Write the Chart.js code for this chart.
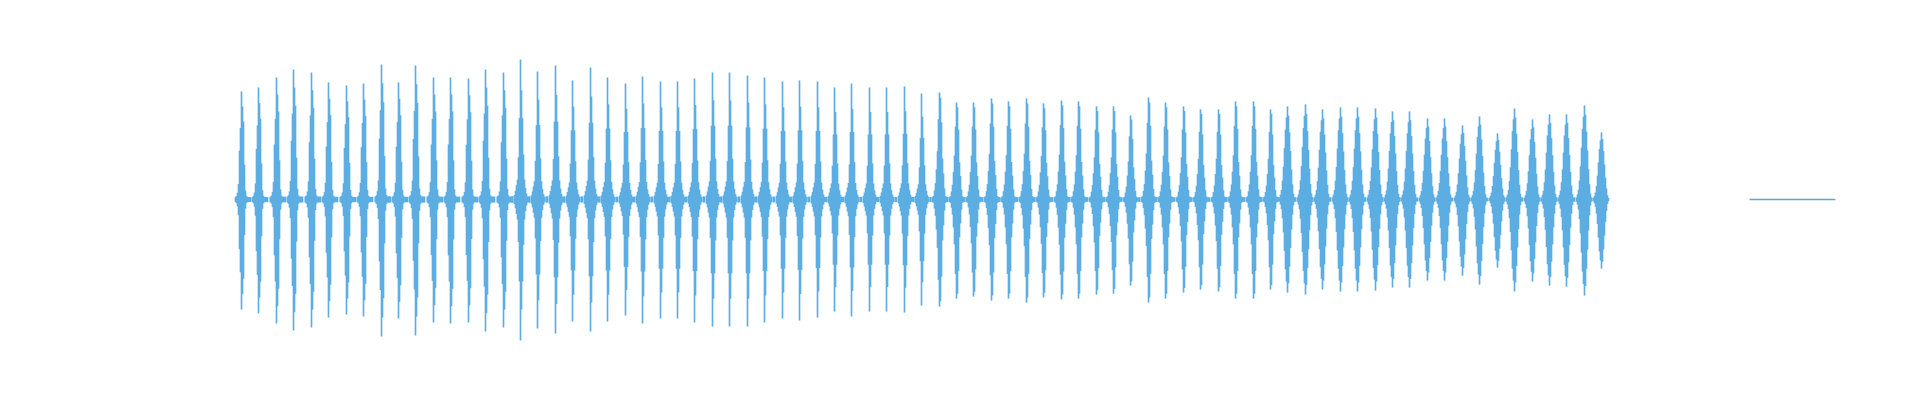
<!DOCTYPE html>
<html>
<head>
<meta charset="utf-8">
<title>Waveform</title>
<script src="https://cdn.jsdelivr.net/npm/chart.js@4.4.1/dist/chart.umd.min.js"></script>
<style>
  html, body { margin: 0; padding: 0; background: #fff; }
  #wrap { width: 1920px; height: 400px; }
</style>
</head>
<body>
<div id="wrap"><canvas id="wave"></canvas></div>
<script>
// Pulse peak columns (pixel frame index)
const pulseCols = [
  241, 258, 276, 293, 311, 328, 346, 363, 381, 398,
  415, 433, 450, 468, 485, 503, 520, 537, 555, 572,
  590, 607, 625, 642, 660, 677, 694, 712, 729, 747,
  764, 782, 799, 817, 834, 851, 869, 886, 904, 921,
  939, 956, 973, 991, 1008, 1026, 1043, 1061, 1078, 1096,
  1113, 1130, 1148, 1165, 1183, 1200, 1218, 1235, 1253, 1270,
  1287, 1305, 1322, 1340, 1357, 1375, 1392, 1409, 1427, 1444,
  1462, 1479, 1497, 1514, 1532, 1549, 1566, 1584, 1601
];

// Positive peak amplitude of each pulse
const pulseUp = [
  0.54, 0.56, 0.61, 0.65, 0.635, 0.585, 0.57, 0.58, 0.675, 0.585,
  0.67, 0.61, 0.61, 0.605, 0.65, 0.635, 0.70, 0.64, 0.67, 0.595,
  0.66, 0.61, 0.58, 0.615, 0.59, 0.59, 0.605, 0.635, 0.635, 0.62,
  0.61, 0.59, 0.595, 0.59, 0.56, 0.58, 0.56, 0.56, 0.565, 0.53,
  0.535, 0.485, 0.485, 0.505, 0.49, 0.505, 0.48, 0.495, 0.49, 0.465,
  0.465, 0.42, 0.51, 0.485, 0.465, 0.45, 0.45, 0.49, 0.49, 0.45,
  0.465, 0.475, 0.45, 0.46, 0.46, 0.455, 0.44, 0.44, 0.405, 0.405,
  0.37, 0.415, 0.33, 0.455, 0.40, 0.425, 0.425, 0.47, 0.335
];

// Negative peak amplitude of each pulse
const pulseDown = [
  0.55, 0.57, 0.62, 0.655, 0.64, 0.59, 0.575, 0.585, 0.685, 0.595,
  0.68, 0.615, 0.62, 0.615, 0.66, 0.64, 0.705, 0.645, 0.67, 0.61,
  0.66, 0.61, 0.58, 0.62, 0.595, 0.595, 0.615, 0.635, 0.635, 0.635,
  0.615, 0.595, 0.605, 0.59, 0.56, 0.585, 0.56, 0.56, 0.565, 0.53,
  0.535, 0.495, 0.485, 0.505, 0.495, 0.515, 0.49, 0.50, 0.495, 0.475,
  0.47, 0.43, 0.515, 0.495, 0.465, 0.45, 0.46, 0.495, 0.495, 0.45,
  0.465, 0.475, 0.45, 0.46, 0.46, 0.455, 0.44, 0.44, 0.405, 0.405,
  0.38, 0.425, 0.34, 0.46, 0.41, 0.43, 0.435, 0.48, 0.345
];

// Envelope shape used by each pulse (index into shapes)
const pulseShape = [
  0, 0, 0, 0, 0, 0, 0, 0, 0, 0,
  0, 0, 0, 0, 0, 0, 1, 1, 1, 1,
  1, 1, 1, 1, 1, 1, 1, 1, 1, 1,
  1, 1, 1, 1, 1, 1, 1, 1, 1, 1,
  2, 2, 2, 2, 2, 2, 2, 2, 2, 2,
  2, 2, 2, 2, 2, 2, 2, 2, 2, 2,
  3, 3, 3, 3, 3, 3, 3, 3, 3, 3,
  3, 3, 3, 3, 3, 3, 3, 3, 3
];

// Column envelopes around the peak
// (small trailing values are the faint noise between pulses)
const narrowShape = [0.02, 0.03, 0.06, 0.14, 0.45, 0.66, 1.0, 0.86, 0.72, 0.32, 0.08, 0.03, 0.02, 0.02, 0.02, 0.02, 0, 0, 0.02, 0.02];
const spikeShape = [0.02, 0.02, 0, 0.03, 0.06, 0.1, 0.14, 0.3, 0.58, 1.0, 0.78, 0.58, 0.32, 0.14, 0.08, 0.04, 0.02, 0, 0.02];
const bodyShape = [0.02, 0, 0.02, 0.03, 0.08, 0.15, 0.28, 0.45, 0.75, 1.0, 0.95, 0.72, 0.38, 0.24, 0.1, 0.03, 0.02, 0.02];
const wideShape = [0.02, 0, 0.02, 0.05, 0.1, 0.2, 0.35, 0.55, 0.75, 0.88, 1.0, 0.9, 0.72, 0.52, 0.32, 0.16, 0.06, 0.02];
const shapes = [narrowShape, spikeShape, bodyShape, wideShape];
const shapeStart = [-6, -9, -9, -10];

// Silent stretch after the clip
const silenceStart = 1749;
const silenceEnd = 1835;

const waveColor = '#5dade2';

// Build min/max bars per column (1px minimum so the noise stays visible)
const bars = [];
pulseCols.forEach((col, i) => {
  const s = pulseShape[i];
  shapes[s].forEach((k, j) => {
    if (k === 0) return;
    const up = Math.max(pulseUp[i] * k, 0.006);
    const down = Math.max(pulseDown[i] * k, 0.006);
    bars.push({ x: col + shapeStart[s] + j, y: [-down, up] });
  });
});
bars.sort((a, b) => a.x - b.x);

new Chart(document.getElementById('wave'), {
  type: 'bar',
  data: {
    datasets: [
      {
        type: 'line',
        data: [{ x: silenceStart, y: 0 }, { x: silenceEnd, y: 0 }],
        borderColor: '#62a6d6',
        borderWidth: 1.3,
        pointRadius: 0
      },
      {
        data: bars,
        backgroundColor: waveColor,
        borderWidth: 0,
        barPercentage: 1,
        categoryPercentage: 1
      }
    ]
  },
  options: {
    responsive: true,
    maintainAspectRatio: false,
    animation: false,
    layout: { padding: 0 },
    plugins: {
      legend: { display: false },
      tooltip: { enabled: false }
    },
    scales: {
      x: { type: 'linear', min: -0.5, max: 1919.5, offset: false, display: false },
      y: { min: -1.005, max: 1, display: false }
    }
  }
});
</script>
</body>
</html>
